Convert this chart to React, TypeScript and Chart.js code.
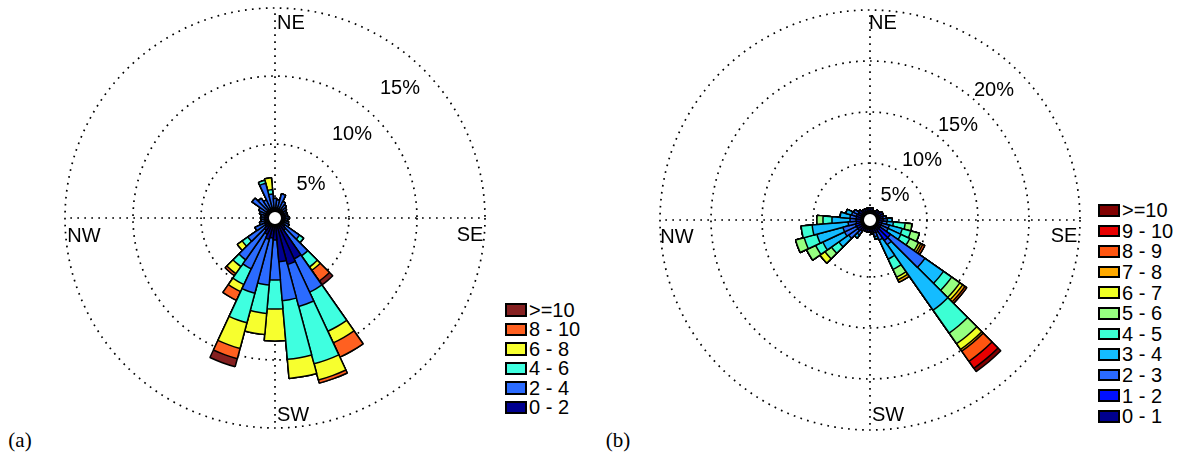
import React, { useEffect, useRef } from 'react';
import { Chart, registerables } from 'chart.js';

Chart.register(...registerables);

// ---- categories: 10° compass bins (centre, degrees), starting at North ----
const DIRECTION_BINS = [5, 15, 25, 35, 45, 55, 65, 75, 85, 95, 105, 115, 125, 135, 145, 155, 165, 175,
  185, 195, 205, 215, 225, 235, 245, 255, 265, 275, 285, 295, 305, 315, 325, 335, 345, 355];
const COMPASS_POINTS = ['N', 'NE', 'E', 'SE', 'S', 'SW', 'W', 'NW'];
const AXIS_POINTS = ['NE', 'SE', 'SW', 'NW'];
const ROTATION = -45; // NE drawn at the top

// ---- rose (a): frequency (%) per speed class ----
const A_CLASSES = ['0 - 2', '2 - 4', '4 - 6', '6 - 8', '8 - 10', '>=10'];
const A_COLORS = ['#000090', '#2B6BFF', '#3FFFE0', '#F7FF2E', '#FF6020', '#852020'];
const A_0_2 = [0.3, 0.3, 0.3, 0.3, 0.3, 0.3, 0.3, 0.3, 0.3, 0.3, 0.3, 0.3, 0.3, 0.3, 0.3, 0.3, 0.3, 0.44,
  0.66, 2.87, 3.09, 2.79, 1.18, 1.03, 1.18, 0.88, 0.66, 0.44, 0.4, 0.3, 0.3, 0.3, 0.3, 0.3, 0.3, 0.3];
const A_2_4 = [1.02, 0.73, 1.91, 1.03, 0.7, 0.6, 1.1, 0.6, 0.45, 0.3, 0.2, 0.2, 0.2, 0.3, 0.2, 0.3, 0.4, 1.32,
  2.3, 2.7, 3.2, 2.87, 2.94, 3.48, 4.11, 2.8, 2.65, 1.55, 0.78, 0.44, 0.29, 0.29, 0.29, 0.44, 0.58, 1.32];
const A_4_6 = [0, 0, 0.22, 0.33, 0, 0, 0, 0, 0, 0, 0, 0, 0, 0, 0, 0, 0, 0.37,
  1.0, 3.18, 4.37, 4.33, 2.13, 2.09, 2.25, 1.28, 0.61, 0.51, 0, 0, 0, 0, 0, 0, 0, 0];
const A_6_8 = [0, 0, 0, 0.87, 0, 0, 0, 0, 0, 0, 0, 0, 0, 0, 0, 0, 0, 0,
  0.3, 0.94, 1.23, 1.41, 2.35, 1.56, 1.95, 0.57, 0.64, 0.44, 0, 0, 0, 0, 0, 0, 0, 0];
const A_8_10 = [0, 0, 0, 0, 0, 0, 0, 0, 0, 0, 0, 0, 0, 0, 0, 0, 0, 0,
  0.96, 1.16, 0.24, 0, 0, 0, 0.78, 0.71, 0.18, 0, 0, 0, 0, 0, 0, 0, 0, 0];
const A_GE10 = [0, 0, 0, 0, 0, 0, 0, 0, 0, 0, 0, 0, 0, 0, 0, 0, 0, 0,
  0.35, 0, 0, 0, 0, 0, 0.61, 0, 0, 0, 0, 0, 0, 0, 0, 0, 0, 0];
const A_RINGS = [5, 10, 15];
const A_RING_LABELS = ['5%', '10%', '15%'];
const A_HOLE = 0.44;

// ---- rose (b) ----
const B_CLASSES = ['0 - 1', '1 - 2', '2 - 3', '3 - 4', '4 - 5', '5 - 6', '6 - 7', '7 - 8', '8 - 9', '9 - 10', '>=10'];
const B_COLORS = ['#00008F', '#0010FF', '#2A6AFF', '#14BCFF', '#3CFFD4', '#96FF80', '#EEFF24', '#FFAA00', '#FF5510', '#E80000', '#800000'];
const B_0_1 = [0.3, 0.3, 0.3, 0.3, 0.3, 0.3, 0.3, 0.3, 0.3, 0.3, 0.3, 0.3, 0.3, 0.3, 0.2, 0.2, 0.2, 0.59,
  0.59, 0.29, 0.3, 0.3, 0.3, 0.3, 0.3, 0.3, 0.3, 0.29, 0.29, 0.29, 0.29, 0.29, 0.29, 0.29, 0.29, 0.3];
const B_1_2 = [0.29, 0.29, 0.29, 0.29, 0.3, 0.3, 0.1, 0.1, 0.3, 0.3, 0.5, 0.5, 0.4, 0.4, 0.39, 0.39, 0.39, 1.27,
  1.27, 0.49, 0.4, 0.3, 0.29, 0.29, 0.29, 0.29, 0.4, 0.59, 0.59, 0.59, 0.49, 0.49, 0.49, 0.49, 0.4, 0.48];
const B_2_3 = [0, 0, 0, 0, 0, 0, 0, 0, 0, 0, 0, 0, 0.3, 0.4, 0.49, 0.78, 0.78, 4.12,
  0.49, 0.79, 0.4, 0.18, 0, 0, 0, 0, 0.5, 1.08, 1.28, 1.28, 0.79, 0.59, 0.6, 0.5, 0.49, 0];
const B_3_4 = [0, 0, 0, 0, 0, 0, 0, 0, 0, 0, 0, 0, 0, 0.47, 0.63, 1.31, 1.38, 2.22,
  7.85, 2.06, 0.27, 0, 0, 0, 0, 0, 0.37, 1.18, 2.35, 2.64, 3.53, 1.77, 0.97, 0.58, 0, 0];
const B_4_5 = [0, 0, 0, 0, 0, 0, 0, 0, 0, 0, 0, 0, 0, 0, 1.16, 0.87, 0.96, 0.98,
  2.74, 1.12, 0, 0, 0, 0, 0, 0, 0, 0.88, 0.78, 1.28, 1.08, 0.88, 0, 0, 0, 0];
const B_5_6 = [0, 0, 0, 0, 0, 0, 0, 0, 0, 0, 0, 0, 0, 0, 0.66, 0.86, 0.95, 0.98,
  1.28, 0.84, 0, 0, 0, 0, 0, 0, 0, 0.78, 0.98, 0.88, 0, 0.59, 0, 0, 0, 0];
const B_6_7 = [0, 0, 0, 0, 0, 0, 0, 0, 0, 0, 0, 0, 0, 0, 0, 0, 0.24, 0.33,
  0.68, 0.29, 0, 0, 0, 0, 0, 0, 0, 0.59, 0, 0, 0, 0, 0, 0, 0, 0];
const B_7_8 = [0, 0, 0, 0, 0, 0, 0, 0, 0, 0, 0, 0, 0, 0, 0, 0, 0.2, 0.29,
  0.2, 0.25, 0, 0, 0, 0, 0, 0, 0, 0, 0, 0, 0, 0, 0, 0, 0, 0];
const B_8_9 = [0, 0, 0, 0, 0, 0, 0, 0, 0, 0, 0, 0, 0, 0, 0, 0, 0.23, 0.2,
  1.23, 0, 0, 0, 0, 0, 0, 0, 0, 0, 0, 0, 0, 0, 0, 0, 0, 0];
const B_9_10 = [0, 0, 0, 0, 0, 0, 0, 0, 0, 0, 0, 0, 0, 0, 0, 0, 0, 0,
  0.83, 0, 0, 0, 0, 0, 0, 0, 0, 0, 0, 0, 0, 0, 0, 0, 0, 0];
const B_GE10 = [0, 0, 0, 0, 0, 0, 0, 0, 0, 0, 0, 0, 0, 0, 0, 0, 0, 0,
  0.39, 0, 0, 0, 0, 0, 0, 0, 0, 0, 0, 0, 0, 0, 0, 0, 0, 0];
const B_RINGS = [5, 10, 15, 20];
const B_RING_LABELS = ['5%', '10%', '15%', '20%'];
const B_HOLE = 0.59;

const SANS = '"Liberation Sans", Arial, Helvetica, sans-serif';
const SERIF = '"Liberation Serif", "Times New Roman", serif';

type RoseProps = {
  series: number[][];
  classes: string[];
  colors: string[];
  rings: number[];
  hole: number;
  left: number;
  top: number;
};

function WindRose({ series, classes, colors, rings, hole, left, top }: RoseProps) {
  const ref = useRef<HTMLCanvasElement>(null);
  useEffect(() => {
    const canvas = ref.current;
    if (!canvas) return;
    const stacked: number[][] = [];
    let run = DIRECTION_BINS.map(() => 0);
    series.forEach((s) => {
      run = run.map((v, i) => v + s[i]);
      stacked.push(run);
    });
    const chart = new Chart(canvas, {
      type: 'polarArea',
      data: {
        labels: COMPASS_POINTS,
        datasets: [
          { label: 'centre', data: [0], backgroundColor: '#ffffff', borderWidth: 0 },
          ...stacked.map((d, i) => ({
            label: classes[i],
            data: d,
            backgroundColor: colors[i],
            borderColor: '#000000',
            borderWidth: 1.5,
          })),
        ],
      },
      options: {
        responsive: false,
        animation: false,
        events: [],
        layout: { padding: 5 },
        plugins: { legend: { display: false }, tooltip: { enabled: false } },
        scales: {
          r: {
            min: -hole,
            max: rings[rings.length - 1],
            startAngle: ROTATION,
            afterBuildTicks: (s: any) => {
              s.ticks = rings.map((v) => ({ value: v }));
            },
            ticks: { display: false },
            pointLabels: { display: false },
            grid: { circular: true, color: '#000000', lineWidth: 1.7 },
            border: { dash: [1.7, 5.3] },
            angleLines: {
              display: true,
              color: '#000000',
              lineWidth: (c: any) => (AXIS_POINTS.includes(COMPASS_POINTS[c.index]) ? 1.7 : 0),
              borderDash: [1.7, 5.3],
            },
          } as any,
        },
      } as any,
    });
    return () => chart.destroy();
  }, []);
  return (
    <canvas
      ref={ref}
      width={430}
      height={430}
      style={{ position: 'absolute', left, top, width: 430, height: 430 }}
    />
  );
}

function Txt({ x, y, text, font, size }: { x: number; y: number; text: string; font: string; size: number }) {
  return (
    <div
      style={{
        position: 'absolute',
        left: x,
        top: y,
        transform: 'translate(-50%, -50%)',
        fontFamily: font,
        fontSize: size,
        lineHeight: 1,
        whiteSpace: 'nowrap',
        color: '#000',
      }}
    >
      {text}
    </div>
  );
}

function Legend({ classes, colors, left, top, step, boxH }: { classes: string[]; colors: string[]; left: number; top: number; step: number; boxH: number }) {
  const items = classes.map((c, i) => ({ c, color: colors[i] })).reverse();
  return (
    <>
      {items.map((it, k) => (
        <div
          key={k}
          style={{ position: 'absolute', left, top: top + k * step, height: boxH, display: 'flex', alignItems: 'center' }}
        >
          <div
            style={{ width: 22, height: boxH, background: it.color, border: '2px solid #000', boxSizing: 'border-box', flex: 'none' }}
          />
          <span style={{ marginLeft: 2, fontFamily: SANS, fontSize: 20, lineHeight: 1, whiteSpace: 'nowrap' }}>{it.c}</span>
        </div>
      ))}
    </>
  );
}

export default function App() {
  const seriesA = [A_0_2, A_2_4, A_4_6, A_6_8, A_8_10, A_GE10];
  const seriesB = [B_0_1, B_1_2, B_2_3, B_3_4, B_4_5, B_5_6, B_6_7, B_7_8, B_8_9, B_9_10, B_GE10];
  const ringPosA = [[311, 183], [352, 133], [400, 87]];
  const ringPosB = [[895, 194], [922, 159], [958, 124], [994, 89]];
  return (
    <div style={{ position: 'absolute', left: 0, top: 0, width: 1186, height: 459, background: '#fff', overflow: 'hidden' }}>
      <WindRose series={seriesA} classes={A_CLASSES} colors={A_COLORS} rings={A_RINGS} hole={A_HOLE} left={60} top={3} />
      <WindRose series={seriesB} classes={B_CLASSES} colors={B_COLORS} rings={B_RINGS} hole={B_HOLE} left={655} top={5} />

      <Txt x={291} y={22} text="NE" font={SANS} size={20} />
      <Txt x={470} y={234} text="SE" font={SANS} size={20} />
      <Txt x={293} y={414} text="SW" font={SANS} size={20} />
      <Txt x={84} y={235} text="NW" font={SANS} size={20} />
      {A_RING_LABELS.map((t, i) => (
        <Txt key={t} x={ringPosA[i][0]} y={ringPosA[i][1]} text={t} font={SANS} size={20} />
      ))}

      <Txt x={883} y={22} text="NE" font={SANS} size={20} />
      <Txt x={1064} y={235} text="SE" font={SANS} size={20} />
      <Txt x={888} y={414} text="SW" font={SANS} size={20} />
      <Txt x={677} y={236} text="NW" font={SANS} size={20} />
      {B_RING_LABELS.map((t, i) => (
        <Txt key={t} x={ringPosB[i][0]} y={ringPosB[i][1]} text={t} font={SANS} size={20} />
      ))}

      <Legend classes={A_CLASSES} colors={A_COLORS} left={505} top={303} step={19.5} boxH={13.5} />
      <Legend classes={B_CLASSES} colors={B_COLORS} left={1098} top={204} step={20.6} boxH={12.5} />

      <Txt x={20} y={440} text="(a)" font={SERIF} size={21} />
      <Txt x={618} y={440} text="(b)" font={SERIF} size={21} />
    </div>
  );
}
